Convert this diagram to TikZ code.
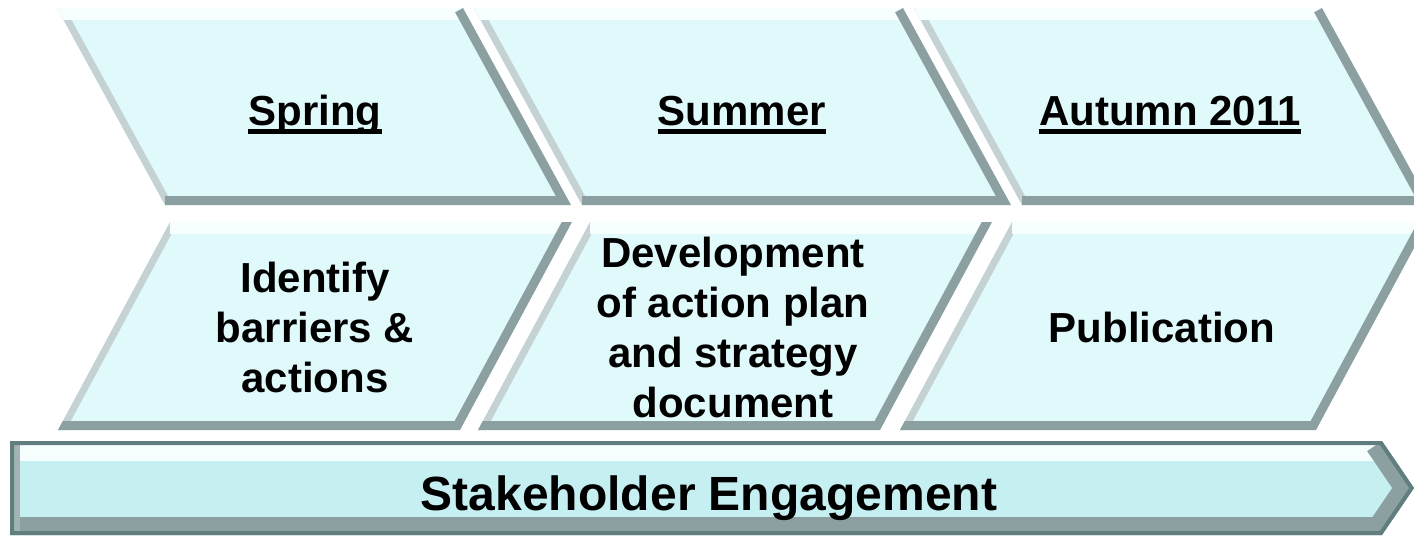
\documentclass[tikz,border=0pt]{standalone}
\usepackage{fontspec}
\setmainfont{Liberation Sans}

\definecolor{paleface}{RGB}{224,249,251}
\definecolor{barface}{RGB}{198,239,241}
\definecolor{rimdark}{RGB}{140,160,162}
\definecolor{rimlight}{RGB}{196,210,212}
\definecolor{rimtop}{RGB}{246,254,254}
\definecolor{bardark}{RGB}{96,126,128}

% face colour, top left, top right, bottom right, bottom left
\newcommand{\bevelpanel}[5]{%
  \begin{scope}
    \clip #2 -- #3 -- #4 -- #5 -- cycle;
    \fill[#1] #2 -- #3 -- #4 -- #5 -- cycle;
    \draw[rim left] #5 -- #2;
    \draw[rim top] #2 -- #3;
    \draw[rim right] #3 -- #4 -- #5;
  \end{scope}}

\begin{document}
\begin{tikzpicture}[x=0.5pt,y=-0.5pt]
    \tikzset{rim top/.style={rimtop,line width=12pt},
             rim left/.style={rimlight,line width=7pt},
             rim right/.style={rimdark,line width=9pt,line join=miter},
             season/.style={font=\fontsize{21pt}{25pt}\selectfont\bfseries,inner sep=0pt,anchor=base},
             task/.style={font=\fontsize{21pt}{25pt}\selectfont\bfseries,inner sep=0pt,align=center},
             uline/.style={line width=2.5pt}};
	\useasboundingbox (0,0) rectangle (1414,536);
	\bevelpanel{paleface}{(57,8)}{(463,8)}{(571,205)}{(165,205)}
	\bevelpanel{paleface}{(474,8)}{(903,8)}{(1011,205)}{(582,205)}
	\bevelpanel{paleface}{(914,8)}{(1322,8)}{(1430,205)}{(1022,205)}
	\bevelpanel{paleface}{(170,222)}{(572,222)}{(460,430)}{(58,430)}
	\bevelpanel{paleface}{(590,222)}{(992,222)}{(880,430)}{(478,430)}
	\bevelpanel{paleface}{(1012,222)}{(1428,222)}{(1316,430)}{(900,430)}
	\begin{scope}
	    \clip (10,441) -- (1382,441) -- (1414,488) -- (1382,535) -- (10,535) -- cycle;
	    \fill[barface] (10,441) -- (1382,441) -- (1414,488) -- (1382,535) -- (10,535) -- cycle;
	    \draw[rimtop,line width=20pt] (10,441) -- (1382,441);
	    \draw[rimdark,line width=18pt] (1382,441) -- (1414,488) -- (1382,535) -- (10,535);
	    \draw[rimdark!80,line width=10pt] (10,535) -- (10,441);
	    \draw[bardark,line width=4pt] (10,441) -- (1382,441) -- (1414,488) -- (1382,535) -- (10,535) -- cycle;
	\end{scope}
	\node[season] (spring) at (315,125) {Spring};
	\node[season] (summer) at (742,125) {Summer};
	\node[season] (autumn) at (1170,125) {Autumn 2011};
	\draw[uline] ([yshift=-3.25pt]spring.base west) -- ([yshift=-3.25pt]spring.base east);
	\draw[uline] ([yshift=-3.25pt]summer.base west) -- ([yshift=-3.25pt]summer.base east);
	\draw[uline] ([yshift=-3.25pt]autumn.base west) -- ([yshift=-3.25pt]autumn.base east);
	\node[task] (identify) at (315,327) {Identify\\barriers \&\\actions};
	\node[task] (develop) at (733,327) {Development\\of action plan\\and strategy\\document};
	\node[task] (publish) at (1162,327) {Publication};
	\node[font=\fontsize{24pt}{28pt}\selectfont\bfseries,inner sep=0pt,anchor=base] (stake) at (709,510) {Stakeholder Engagement};
\end{tikzpicture}
\end{document}
